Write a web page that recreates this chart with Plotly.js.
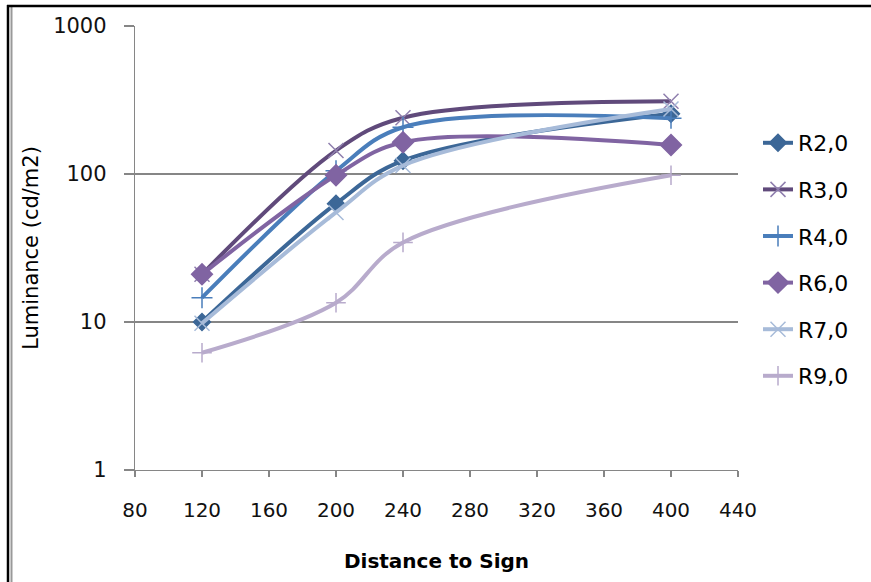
<!DOCTYPE html>
<html>
<head>
<meta charset="utf-8">
<script src="https://cdn.plot.ly/plotly-3.0.1.min.js"></script>
<style>html,body{margin:0;padding:0;background:#fff;}#chart{width:871px;height:582px;}</style>
</head>
<body>
<div id="chart"></div>
<script>
// ---- data ----
const distance = [120, 200, 240, 400];
const seriesNames = ["R2,0", "R3,0", "R4,0", "R6,0", "R7,0", "R9,0"];
const r2 = [10, 63, 123, 255];
const r3 = [21, 144, 240, 310];
const r4 = [14.6, 105, 207, 238];
const r6 = [21, 98, 164, 157];
const r7 = [9.8, 55, 114, 275];
const r9 = [6.2, 13.5, 34.5, 98];
const xTicks = [80, 120, 160, 200, 240, 280, 320, 360, 400, 440];
const yTicks = [1, 10, 100, 1000];
const yTickText = ["1", "10", "100", "1000"];

// ---- styles ----
const styles = [
  {color: "#3c6797", symbol: "diamond", size: 13, mline: "#3c6797"},
  {color: "#604a7b", symbol: "x-thin", size: 15, mline: "#8f7fae"},
  {color: "#4a7ebb", symbol: "cross-thin", size: 15, mline: "#4a7ebb"},
  {color: "#8064a2", symbol: "diamond", size: 16, mline: "#8064a2"},
  {color: "#a7bbd9", symbol: "x-thin", size: 15, mline: "#a7bbd9"},
  {color: "#b8abcc", symbol: "cross-thin", size: 14, mline: "#b8abcc"}
];
const values = [r2, r3, r4, r6, r7, r9];

const traces = values.map((v, i) => ({
  type: "scatter",
  mode: "lines+markers",
  name: seriesNames[i],
  legendgroup: "g" + i,
  x: distance,
  y: v,
  line: {color: styles[i].color, width: 4, shape: "spline", smoothing: 1},
  marker: {symbol: styles[i].symbol, size: styles[i].size, color: styles[i].color,
           line: {color: styles[i].mline, width: 1.5}}
}));

const L = 135, R = 738, T = 26, B = 470, W = 871, H = 582;
const px = x => (x - L) / (R - L);
const py = y => (B - y) / (B - T);

const font = "DejaVu Sans, sans-serif";
const layout = {
  width: W, height: H,
  margin: {l: L, r: W - R, t: T, b: H - B, pad: 0},
  paper_bgcolor: "#ffffff", plot_bgcolor: "#ffffff",
  font: {family: font, size: 19, color: "#000"},
  showlegend: true,
  legend: {x: px(758), y: py(122), xanchor: "left", yanchor: "top",
           font: {family: font, size: 22, color: "#000"},
           tracegroupgap: 15, bgcolor: "rgba(0,0,0,0)"},
  xaxis: {
    type: "linear", range: [80, 440], tickmode: "array", tickvals: xTicks,
    showgrid: false, zeroline: false, showline: true, linecolor: "#868686", linewidth: 1.2,
    ticks: "outside", ticklen: 6, tickcolor: "#868686", tickwidth: 1.2,
    ticklabelstandoff: 16,
    tickfont: {family: font, size: 20, color: "#111"},
    title: {text: "Distance to Sign", standoff: 32,
            font: {family: font, size: 20, weight: "bold", color: "#000"}},
    automargin: false, fixedrange: true
  },
  yaxis: {
    type: "log", range: [0, 3], tickmode: "array", tickvals: yTicks, ticktext: yTickText,
    showgrid: true, gridcolor: "#868686", gridwidth: 1.2,
    zeroline: false, showline: true, linecolor: "#868686", linewidth: 1.2,
    ticks: "outside", ticklen: 10, tickcolor: "#868686", tickwidth: 1.2,
    ticklabelstandoff: 13,
    tickfont: {family: font, size: 21, color: "#111"},
    title: {text: "Luminance (cd/m2)", standoff: 8,
            font: {family: font, size: 21, color: "#000"}},
    automargin: false, fixedrange: true
  },
  shapes: [
    {type: "line", xref: "paper", yref: "paper", x0: px(8), x1: px(8), y0: py(5), y1: py(585),
     line: {color: "#000", width: 2.5}},
    {type: "line", xref: "paper", yref: "paper", x0: px(11.5), x1: px(11.5), y0: py(7), y1: py(585),
     line: {color: "#999", width: 2}},
    {type: "line", xref: "paper", yref: "paper", x0: px(7), x1: px(875), y0: py(6), y1: py(6),
     line: {color: "#000", width: 2.5}}
  ]
};

Plotly.newPlot("chart", traces, layout, {displayModeBar: false, staticPlot: true});
</script>
</body>
</html>
